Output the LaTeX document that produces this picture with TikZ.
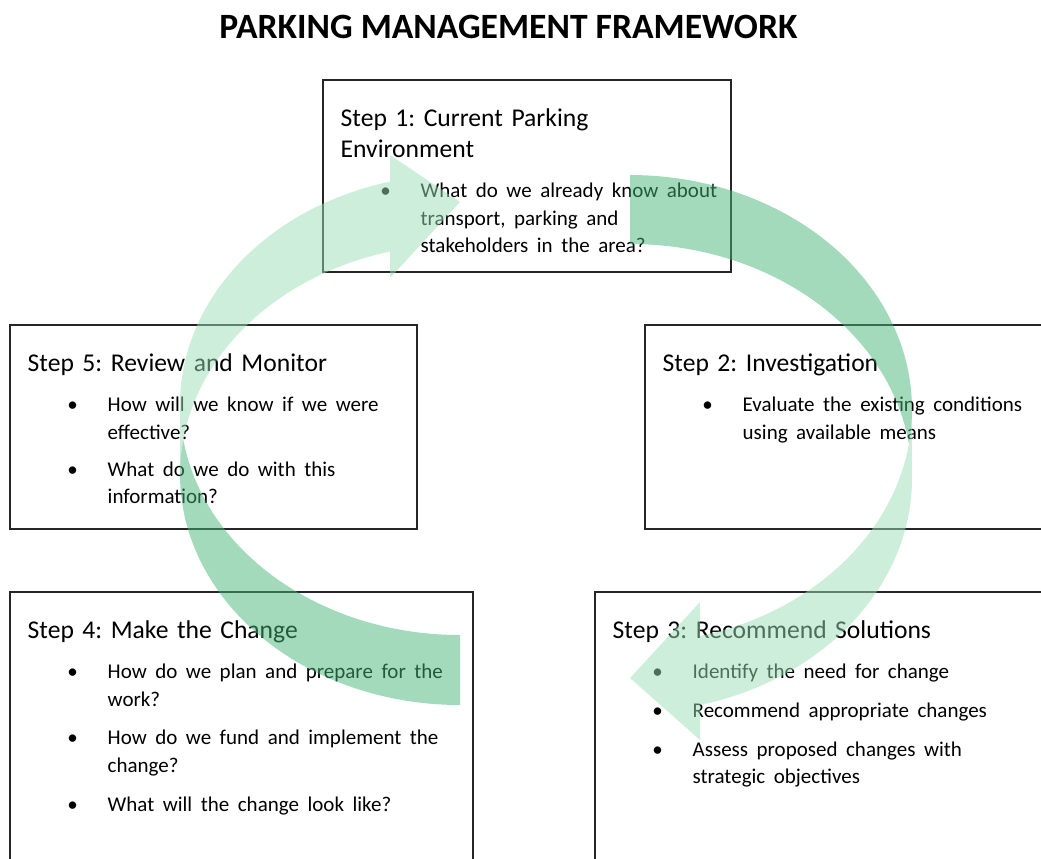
\documentclass[tikz,border=0pt]{standalone}
\usepackage{fontspec}
\setmainfont{Carlito}
\usetikzlibrary{positioning}
\definecolor{arrowdark}{RGB}{71,181,121}
\definecolor{arrowlight}{RGB}{157,221,185}
\def\stephead#1{\frenchspacing\strut #1\par}
\newcommand\stepitem[2][11.2pt]{{\fontsize{21}{27.5}\selectfont\leftskip=80pt\vskip #1\noindent\llap{\makebox[0pt]{\textbullet}\hspace{35pt}}#2\par}}

\begin{document}
\begin{tikzpicture}[x=1pt, y=-1pt,
		stepbox/.style={draw=black!85, line width=1.3pt, anchor=north west, inner sep=0pt, outer sep=0pt},
		steptext/.style={anchor=north west, inner sep=0pt, text width=#1, align=left, font=\fontsize{25.6}{31}\selectfont},
		steptext/.default=420pt,
		frontarrow/.style={fill=arrowlight, fill opacity=0.5},
		backarrow/.style={fill=arrowdark, fill opacity=0.5}]
		%%%%% START %%%%%
		
		\path[use as bounding box, clip] (0, 0) rectangle (1041, 859);
		
		\node[font=\bfseries\fontsize{35.6}{42}\selectfont, anchor=base] (title) at (508.5, 38.5) {PARKING MANAGEMENT FRAMEWORK};
		
		\node[stepbox, minimum width=408pt, minimum height=192pt] (step1) at (323, 80) {};
		\node[stepbox, minimum width=407pt, minimum height=204pt] (step5) at (10, 325) {};
		\node[stepbox, minimum width=420pt, minimum height=204pt] (step2) at (645, 325) {};
		\node[stepbox, minimum width=463pt, minimum height=290pt] (step4) at (10, 592) {};
		\node[stepbox, minimum width=470pt, minimum height=290pt] (step3) at (595, 592) {};
		
		\node[steptext, below right=24.5pt and 17.5pt of step1.north west] (step1txt) {\stephead{Step 1: Current Parking\\Environment}%
			\stepitem[12.8pt]{What do we already know about\\transport, parking and\\stakeholders in the area?}};
		\node[steptext, below right=24.5pt and 17.5pt of step5.north west] (step5txt) {\stephead{Step 5: Review and Monitor}%
			\stepitem[12.8pt]{How will we know if we were\\effective?}%
			\stepitem[9.5pt]{What do we do with this\\information?}};
		\node[steptext, below right=24.5pt and 17.5pt of step2.north west] (step2txt) {\stephead{Step 2: Investigation}%
			\stepitem[12.8pt]{Evaluate the existing conditions\\using available means}};
		\node[steptext, below right=24.5pt and 17.5pt of step4.north west] (step4txt) {\stephead{Step 4: Make the Change}%
			\stepitem[12.8pt]{How do we plan and prepare for the\\work?}%
			\stepitem{How do we fund and implement the\\change?}%
			\stepitem{What will the change look like?}};
		\node[steptext, below right=24.5pt and 17.5pt of step3.north west] (step3txt) {\stephead{Step 3: Recommend Solutions}%
			\stepitem[12.8pt]{Identify the need for change}%
			\stepitem{Recommend appropriate changes}%
			\stepitem{Assess proposed changes with\\strategic objectives}};
		
		% left arrow, from step 4 up to step 1
		\fill[frontarrow] (180, 474.6) arc[start angle=180, end angle=255.52, x radius=280, y radius=230.4]
			-- (390, 278) -- (460, 202) -- (390, 155) -- (390, 181.6)
			arc[start angle=255.52, end angle=180, x radius=280, y radius=230.4] -- cycle;
		\fill[backarrow] (460, 635) arc[start angle=90, end angle=171.26, x radius=280, y radius=230.4]
			arc[start angle=188.74, end angle=90, x radius=280, y radius=230.4] -- cycle;
		
		% right arrow, from step 1 down to step 3
		\fill[frontarrow] (912, 409.2) arc[start angle=0, end angle=75.63, x radius=282, y radius=234.2]
			-- (700, 602) -- (630, 678) -- (700, 740) -- (700, 705.1)
			arc[start angle=75.63, end angle=0, x radius=282, y radius=234.2] -- cycle;
		\fill[backarrow] (630, 244) arc[start angle=-90, end angle=-8.47, x radius=282, y radius=234.2]
			arc[start angle=8.47, end angle=-90, x radius=282, y radius=234.2] -- cycle;
		
		%%%%% END %%%%%
	\end{tikzpicture}
\end{document}
